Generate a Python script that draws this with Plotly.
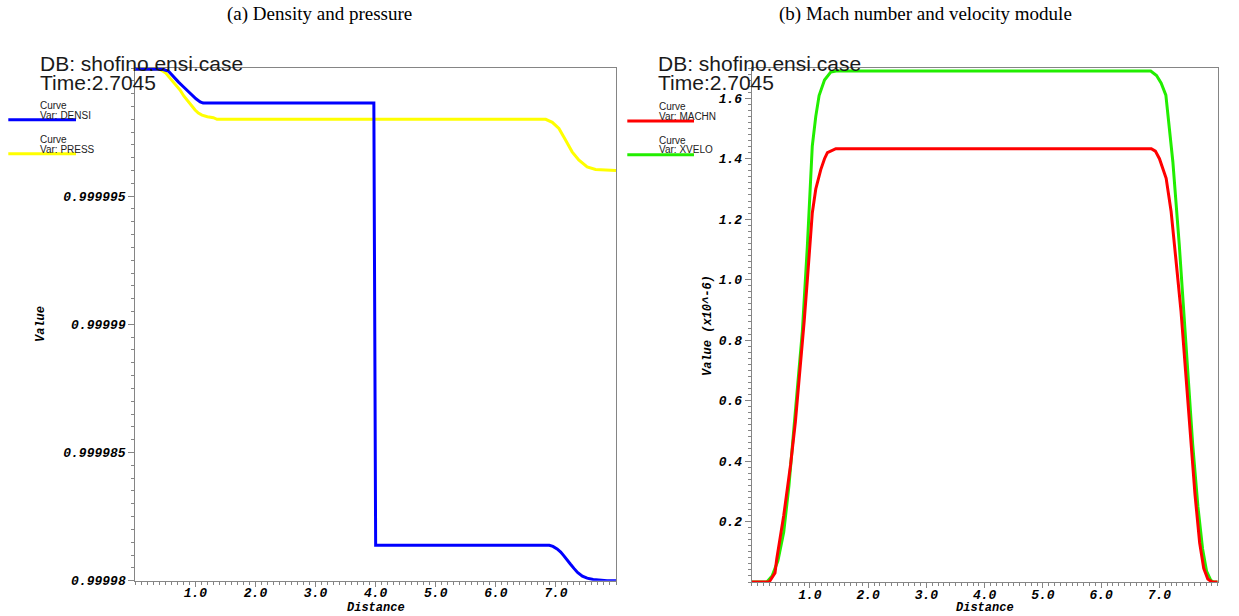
import plotly.graph_objects as go

# ---------------- data ----------------
# (a) density and pressure along the duct
densi_x = [0.0, 0.45, 0.55, 0.63, 0.72, 0.80, 0.87, 0.94, 1.01, 1.08, 1.13,
           3.97, 3.98, 3.99, 4.00, 6.89, 6.95, 7.02, 7.08, 7.13, 7.19, 7.24,
           7.30, 7.36, 7.44, 7.52, 7.62, 7.745, 7.85, 8.0]
densi_y = [0.99999995, 0.99999995, 0.99999988, 0.99999966, 0.99999945,
           0.99999927, 0.99999910, 0.99999895, 0.99999880, 0.99999868,
           0.99999863, 0.99999863, 0.99999450, 0.99998700, 0.99998138,
           0.99998138, 0.99998134, 0.99998124, 0.99998112, 0.99998098,
           0.99998082, 0.99998065, 0.99998048, 0.99998032, 0.99998018,
           0.99998010, 0.99998005, 0.99998002, 0.99998000, 0.99998000]

press_x = [0.0, 0.41, 0.50, 0.58, 0.66, 0.745, 0.81, 0.88, 0.94, 0.995, 1.05,
           1.11, 1.20, 1.30, 1.36, 6.83, 6.94, 7.05, 7.16, 7.27, 7.38, 7.52,
           7.66, 7.80, 8.0]
press_y = [0.99999995, 0.99999995, 0.99999982, 0.99999960, 0.99999938,
           0.99999914, 0.99999890, 0.99999868, 0.99999850, 0.99999836,
           0.99999824, 0.99999816, 0.99999810, 0.99999806, 0.99999800,
           0.99999800, 0.99999788, 0.99999764, 0.99999719, 0.99999673,
           0.99999641, 0.99999614, 0.99999604, 0.99999602, 0.99999600]

# (b) Mach number and velocity (x10^-6)
machn_x = [0.0, 0.30, 0.40, 0.43, 0.55, 0.667, 0.75, 0.84, 0.90, 0.955, 1.00,
           1.04, 1.10, 1.186, 1.25, 1.30, 1.445, 6.86, 6.93, 7.0, 7.115, 7.2,
           7.286, 7.37, 7.457, 7.543, 7.61, 7.69, 7.76, 7.83, 7.90, 8.0]
machn_y = [0.0, 0.0, 0.03, 0.076, 0.22, 0.387, 0.53, 0.72, 0.86, 0.998, 1.12,
           1.22, 1.30, 1.364, 1.40, 1.42, 1.433, 1.433, 1.425, 1.40, 1.335,
           1.226, 1.06, 0.896, 0.676, 0.457, 0.29, 0.13, 0.045, 0.01, 0.0,
           0.0]

xvelo_x = [0.0, 0.26, 0.35, 0.45, 0.55, 0.64, 0.72, 0.80, 0.87, 0.955, 1.04,
           1.10, 1.157, 1.25, 1.36, 1.45, 6.85, 6.95, 7.03, 7.11, 7.23, 7.34,
           7.46, 7.57, 7.66, 7.74, 7.81, 7.88, 7.93, 8.0]
xvelo_y = [0.0, 0.0, 0.02, 0.07, 0.165, 0.32, 0.498, 0.67, 0.83, 1.109, 1.442,
           1.54, 1.609, 1.66, 1.687, 1.69, 1.69, 1.675, 1.65, 1.61, 1.39,
           1.116, 0.786, 0.457, 0.25, 0.11, 0.035, 0.006, 0.0, 0.0]

# tick labels
dist_ticks = [1.0, 2.0, 3.0, 4.0, 5.0, 6.0, 7.0]
dist_labels = ["1.0", "2.0", "3.0", "4.0", "5.0", "6.0", "7.0"]
left_ticks = [0.99998, 0.999985, 0.99999, 0.999995]
left_labels = ["0.99998", "0.999985", "0.99999", "0.999995"]
right_ticks = [0.2, 0.4, 0.6, 0.8, 1.0, 1.2, 1.4, 1.6]
right_labels = ["0.2", "0.4", "0.6", "0.8", "1.0", "1.2", "1.4", "1.6"]

# ---------------- figure ----------------
W, H = 1239, 616
AX = "#858585"
tick_font = dict(family="Liberation Mono", size=13, color="black",
                 weight="bold", style="italic")


def px(x):
    return x / W


def py(y):
    return 1 - y / H


fig = go.Figure()

fig.add_trace(go.Scatter(x=press_x, y=press_y, mode="lines",
                         line=dict(color="#ffff00", width=3),
                         xaxis="x", yaxis="y"))
fig.add_trace(go.Scatter(x=densi_x, y=densi_y, mode="lines",
                         line=dict(color="#0000ff", width=3),
                         xaxis="x", yaxis="y"))
fig.add_trace(go.Scatter(x=xvelo_x, y=xvelo_y, mode="lines",
                         line=dict(color="#22ee00", width=3),
                         xaxis="x2", yaxis="y2"))
fig.add_trace(go.Scatter(x=machn_x, y=machn_y, mode="lines",
                         line=dict(color="#ff0000", width=3),
                         xaxis="x2", yaxis="y2"))


def xaxis_cfg(dom, anchor):
    return dict(domain=dom, anchor=anchor, range=[0, 8], automargin=False,
                tickvals=dist_ticks, ticktext=dist_labels,
                ticks="outside", ticklen=5, tickwidth=1, tickcolor=AX,
                ticklabelstandoff=-5,
                showline=True, linecolor=AX, linewidth=1, mirror=True,
                showgrid=False, zeroline=False, tickfont=tick_font,
                minor=dict(dtick=0.1, tick0=0, ticks="outside", ticklen=3,
                           tickcolor=AX, tickwidth=1, showgrid=False))


def yaxis_cfg(dom, anchor, rng, tv, tt, minor_dt):
    return dict(domain=dom, anchor=anchor, range=rng, automargin=False,
                tickvals=tv, ticktext=tt,
                ticks="outside", ticklen=6, tickwidth=1, tickcolor=AX,
                showline=True, linecolor=AX, linewidth=1, mirror=True,
                showgrid=False, zeroline=False, tickfont=tick_font,
                minor=dict(dtick=minor_dt, tick0=rng[0], ticks="outside",
                           ticklen=3, tickcolor=AX, tickwidth=1,
                           showgrid=False))


fig.update_layout(
    width=W, height=H,
    margin=dict(l=0, r=0, t=0, b=0),
    paper_bgcolor="white", plot_bgcolor="white",
    showlegend=False,
    xaxis=xaxis_cfg([px(135.3), px(616)], "y"),
    yaxis=yaxis_cfg([py(580.7), py(68)], "x", [0.99998, 1.0],
                    left_ticks, left_labels, 5e-7),
    xaxis2=xaxis_cfg([px(751.7), px(1217.7)], "y2"),
    yaxis2=yaxis_cfg([py(582), py(68)], "x2", [0, 1.7],
                     right_ticks, right_labels, 0.02),
)

ann = []
shapes = []

# panel captions
cap_font = dict(family="Liberation Serif", size=19, color="black")
ann.append(dict(text="(a) Density and pressure", x=px(320), y=py(14),
                xref="paper", yref="paper", showarrow=False,
                xanchor="center", yanchor="middle", font=cap_font))
ann.append(dict(text="(b) Mach number and velocity module", x=px(925),
                y=py(14), xref="paper", yref="paper", showarrow=False,
                xanchor="center", yanchor="middle", font=cap_font))

# axis titles
ttl_font = dict(family="Liberation Mono", size=12, color="black",
                weight="bold", style="italic")
for xc in (375.6, 984.7):
    ann.append(dict(text="Distance", x=px(xc), y=py(607.5), xref="paper",
                    yref="paper", showarrow=False, xanchor="center",
                    yanchor="middle", font=ttl_font))
ann.append(dict(text="Value", x=px(41), y=py(324), xref="paper",
                yref="paper", showarrow=False, textangle=-90,
                xanchor="center", yanchor="middle", font=ttl_font))
ann.append(dict(text="Value (x10^-6)", x=px(708), y=py(326), xref="paper",
                yref="paper", showarrow=False, textangle=-90,
                xanchor="center", yanchor="middle", font=ttl_font))

# case header
hdr_font = dict(family="Liberation Sans", size=21, color="#1a1a1a")
for x0 in (37.5, 656):
    ann.append(dict(text="DB: shofino.ensi.case", x=px(x0), y=py(63),
                    xref="paper", yref="paper", showarrow=False,
                    xanchor="left", yanchor="middle", font=hdr_font))
    ann.append(dict(text="Time:2.7045", x=px(x0), y=py(82.5),
                    xref="paper", yref="paper", showarrow=False,
                    xanchor="left", yanchor="middle", font=hdr_font))

# curve keys
key_font = dict(family="Liberation Sans", size=10, color="#222222")
keys = [
    (38, 8.3, 76, 106, 115.5, 119.7, "Var: DENSI", "#0000ff"),
    (38, 8.3, 76, 139.5, 149, 153.7, "Var: PRESS", "#ffff00"),
    (656.7, 627.3, 694, 106.5, 116.5, 121, "Var: MACHN", "#ff0000"),
    (656.7, 627.3, 694, 140, 149.5, 154.7, "Var: XVELO", "#22ee00"),
]
for tx, lx0, lx1, y1, y2, ly, var, col in keys:
    ann.append(dict(text="Curve", x=px(tx), y=py(y1), xref="paper",
                    yref="paper", showarrow=False, xanchor="left",
                    yanchor="middle", font=key_font))
    ann.append(dict(text=var, x=px(tx), y=py(y2), xref="paper",
                    yref="paper", showarrow=False, xanchor="left",
                    yanchor="middle", font=key_font))
    shapes.append(dict(type="line", xref="paper", yref="paper",
                       x0=px(lx0), x1=px(lx1), y0=py(ly), y1=py(ly),
                       line=dict(color=col, width=3)))

fig.update_layout(annotations=ann, shapes=shapes)

fig.write_html("out.html")
